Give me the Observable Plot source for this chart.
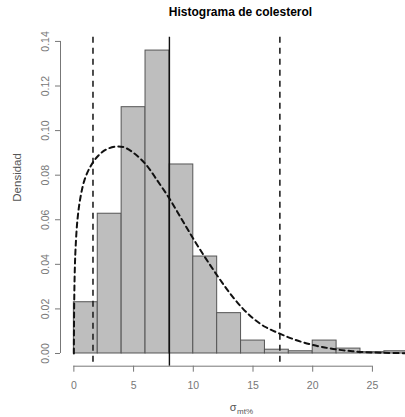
<!DOCTYPE html>
<html><head><meta charset="utf-8">
<script src="https://cdn.jsdelivr.net/npm/d3@7"></script>
<script src="https://cdn.jsdelivr.net/npm/@observablehq/plot@0.6"></script>
<style>
body{margin:0;overflow:hidden;background:#fff;font-family:"Liberation Sans",Arial,sans-serif;}
#title{width:481px;height:25px;line-height:25px;text-align:center;font-weight:bold;font-size:12px;color:#000;white-space:nowrap;}
</style></head><body>
<div id="title"></div>
<div id="chart"></div>
<script>
const title = "Histograma de colesterol";
const yLabel = "Densidad";
const xLabelMain = "σ";
const xLabelSub = "mt%";
const binStarts = [0, 2, 4, 6, 8, 10, 12, 14, 16, 18, 20, 22, 24, 26];
const binWidth = 2;
const densities = [0.0230, 0.0627, 0.1105, 0.1359, 0.0848, 0.0435, 0.0181, 0.0058, 0.0017, 0.0010, 0.0058, 0.0022, 0.0006, 0.0010];
const curveX = [0, 0.01, 0.03, 0.07, 0.14, 0.3, 0.55, 0.9, 1.4, 2.0, 2.7, 3.5, 4.2, 5.0, 6.0, 7.0, 8.0, 9.0, 10.0, 11.0, 12.0, 13.0, 14.0, 15.0, 16.0, 17.2, 18.5, 19.8, 21.0, 22.0, 23.0, 24.0, 26.0, 28.0];
const curveY = [0, 0.012, 0.024, 0.036, 0.047, 0.060, 0.070, 0.078, 0.084, 0.0885, 0.0915, 0.0928, 0.0925, 0.0900, 0.0850, 0.0775, 0.0695, 0.0605, 0.0515, 0.0430, 0.0350, 0.0275, 0.0210, 0.0158, 0.0120, 0.0090, 0.0062, 0.0041, 0.0027, 0.0018, 0.0012, 0.0007, 0.0003, 0.0001];
const dashedLines = [1.6, 17.25];
const solidLine = [8.0];
const xTicks = [0, 5, 10, 15, 20, 25];
const yTicks = [0, 0.02, 0.04, 0.06, 0.08, 0.10, 0.12, 0.14];

document.getElementById("title").textContent = title;

const bins = binStarts.map((b, i) => ({x0: b, x1: b + binWidth, d: densities[i]}));
const curve = curveX.map((x, i) => ({x, y: curveY[i]}));
const xDomain = [-1.12, 27.77];
const yDomain = [-0.0057, 0.1419];
const axisColor = "#777";
const textColor = "#555";

const chart = Plot.plot({
  width: 405, height: 392,
  marginLeft: 60, marginRight: 0, marginTop: 11.7, marginBottom: 51.3,
  x: {domain: xDomain, label: null},
  y: {domain: yDomain, label: null},
  style: {fontFamily: '"Liberation Sans", Arial, sans-serif', background: "#fff", color: textColor},
  marks: [
    Plot.rect(bins, {x1: "x0", x2: "x1", y1: () => 0, y2: "d", fill: "#bebebe", stroke: "#555", strokeWidth: 1, clip: true}),
    Plot.ruleX(dashedLines, {stroke: "#222", strokeWidth: 1.6, strokeDasharray: "6,5"}),
    Plot.ruleX(solidLine, {stroke: "#111", strokeWidth: 1.4}),
    Plot.line(curve, {x: "x", y: "y", curve: "catmull-rom", stroke: "#111", strokeWidth: 2, strokeDasharray: "5,4", clip: true}),
    Plot.ruleY([yDomain[0]], {x1: () => xTicks[0], x2: () => xTicks[xTicks.length - 1], stroke: axisColor}),
    Plot.ruleX([xDomain[0]], {y1: () => yTicks[0], y2: () => yTicks[yTicks.length - 1], stroke: axisColor}),
    Plot.axisX({ticks: xTicks, tickSize: 6, tickPadding: 9, color: axisColor, fontSize: 10.5, tickFormat: d => String(d), label: null}),
    Plot.axisY({ticks: yTicks, tickSize: 5, tickRotate: -90, tickPadding: 7, color: axisColor, fontSize: 10.5, tickFormat: d3.format(".2f"), label: null}),
    Plot.text([yLabel], {text: d => d, frameAnchor: "left", rotate: -90, dx: -43.3, fontSize: 11.5, fill: textColor}),
    Plot.text([xLabelMain], {text: d => d, frameAnchor: "bottom", dx: 3.5, dy: 44.3, textAnchor: "end", fontSize: 11, fill: textColor}),
    Plot.text([xLabelSub], {text: d => d, frameAnchor: "bottom", dx: 4, dy: 47.5, textAnchor: "start", fontSize: 8, fill: textColor})
  ]
});
document.getElementById("chart").appendChild(chart);
</script>
</body></html>
